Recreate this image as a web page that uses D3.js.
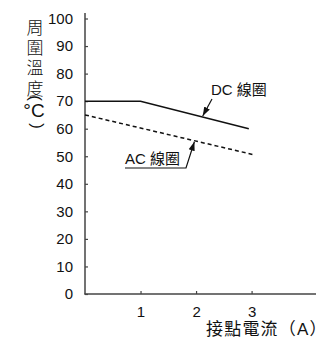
<!DOCTYPE html>
<html><head><meta charset="utf-8">
<script src="https://cdn.jsdelivr.net/npm/d3@7/dist/d3.min.js"></script>
<style>
body{margin:0;background:#fff;}
svg{display:block;font-family:"Liberation Sans",Arial,sans-serif;}
</style></head>
<body><svg id="c" width="326" height="340"></svg>
<script>
const yTicks = [0,10,20,30,40,50,60,70,80,90,100];
const xTicks = [1,2,3];
const dcX = [0,1,2.95];
const dcY = [70,70,60];
const acX = [0,3.05];
const acY = [65,50.5];
const yTitle = "周圍溫度";
const xTitle = "接點電流（A）";
const dcLabel = "DC 線圈";
const acLabel = "AC 線圈";

const svg = d3.select("#c");
const x = d3.scaleLinear().domain([0,4.16]).range([85,316]);
const y = d3.scaleLinear().domain([0,100]).range([294,18.5]);
const axisColor = "#444";
const lab = "'Liberation Sans','Noto Sans CJK TC',sans-serif";
const cjk = "'Noto Sans CJK TC','Liberation Sans',sans-serif";

// y axis
const ga = svg.append("g").attr("transform","translate(85,0)")
  .call(d3.axisLeft(y).tickValues(yTicks).tickFormat(d3.format("d")).tickSizeInner(-3).tickSizeOuter(0).tickPadding(12));
ga.select(".domain").remove();
ga.selectAll("line").attr("stroke",axisColor).attr("stroke-width",1.2);
ga.selectAll("text").attr("font-size",15).attr("fill","#111").attr("font-family",lab);
svg.append("line").attr("x1",85).attr("x2",85).attr("y1",13).attr("y2",294.5).attr("stroke",axisColor).attr("stroke-width",1.5);

// x axis
const gx = svg.append("g").attr("transform","translate(0,294)")
  .call(d3.axisBottom(x).tickValues(xTicks).tickFormat(d3.format("d")).tickSizeInner(-3).tickSizeOuter(0).tickPadding(12));
gx.select(".domain").remove();
gx.selectAll("line").attr("stroke",axisColor).attr("stroke-width",1.2);
gx.selectAll("text").attr("font-size",15).attr("fill","#111").attr("font-family",lab);
svg.append("line").attr("x1",84.5).attr("x2",316).attr("y1",294).attr("y2",294).attr("stroke",axisColor).attr("stroke-width",1.5);

const line = d3.line().x(d=>x(d[0])).y(d=>y(d[1]));
svg.append("path").datum(dcX.map((v,i)=>[v,dcY[i]])).attr("d",line)
  .attr("fill","none").attr("stroke","#111").attr("stroke-width",1.5);
svg.append("path").datum(acX.map((v,i)=>[v,acY[i]])).attr("d",line)
  .attr("fill","none").attr("stroke","#111").attr("stroke-width",1.5).attr("stroke-dasharray","4,3");

// arrow marker
svg.append("defs").append("marker").attr("id","ah").attr("viewBox","0 0 10 10")
  .attr("refX",10).attr("refY",5).attr("markerWidth",9).attr("markerHeight",9)
  .attr("markerUnits","userSpaceOnUse").attr("orient","auto")
  .append("path").attr("d","M0,1.5 L10,5 L0,8.5 Z").attr("fill","#111");

// DC label
svg.append("text").attr("x",211).attr("y",94.5).attr("font-size",15).attr("font-family",lab).attr("fill","#111").text(dcLabel);
const dcPx = 2.12, dcPv = 70 - (dcPx-1)*(10/1.95);
svg.append("line").attr("x1",212).attr("y1",99).attr("x2",x(dcPx)).attr("y2",y(dcPv)-1)
  .attr("stroke","#111").attr("stroke-width",1.2).attr("marker-end","url(#ah)");

// AC label
svg.append("text").attr("x",125).attr("y",164).attr("font-size",15).attr("font-family",lab).attr("fill","#111").text(acLabel);
const acPx = 1.97, acPv = 65 - acPx*(14.5/3.05);
svg.append("path").attr("d",`M125,168 L186,168 L${x(acPx)},${y(acPv)+1}`)
  .attr("fill","none").attr("stroke","#111").attr("stroke-width",1.2).attr("marker-end","url(#ah)");

// y title (vertical)
svg.append("text").attr("x",35).attr("y",19).attr("writing-mode","vertical-rl")
  .attr("font-size",17).attr("letter-spacing","3.2px").attr("font-family",cjk).attr("font-weight",300)
  .attr("fill","#111").text(yTitle);
svg.append("text").attr("transform","translate(35,98) rotate(90)").attr("text-anchor","middle").attr("dy","0.32em")
  .attr("font-size",17).attr("font-family",lab).attr("fill","#111").text("(");
svg.append("text").attr("x",34).attr("y",117).attr("text-anchor","middle")
  .attr("font-size",19).attr("font-family",lab).attr("fill","#111").text("°C");
svg.append("text").attr("transform","translate(37,126) rotate(90)").attr("text-anchor","middle").attr("dy","0.32em")
  .attr("font-size",17).attr("font-family",lab).attr("fill","#111").text(")");

// x title
svg.append("text").attr("x",206).attr("y",334.5).attr("letter-spacing","1.2px")
  .attr("font-size",17).attr("font-family",lab).attr("fill","#111").text(xTitle);
</script></body></html>
